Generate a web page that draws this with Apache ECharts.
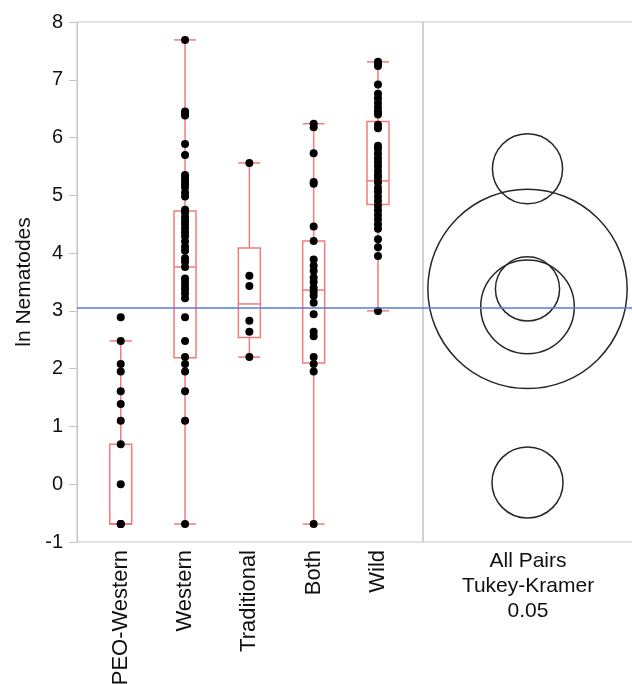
<!DOCTYPE html>
<html>
<head>
<meta charset="utf-8">
<script src="https://cdn.jsdelivr.net/npm/echarts@6/dist/echarts.min.js"></script>
<style>
  html, body { margin: 0; padding: 0; background: #fff; }
  #main { width: 632px; height: 684px; }
</style>
</head>
<body>
<div id="main"></div>
<script>
// groups on the x axis
const categories = ['PEO-Western', 'Western', 'Traditional', 'Both', 'Wild'];

// ln(nematode count) per sample
const peoWestern = [2.89, 2.48, 2.08, 1.95, 1.61, 1.39, 1.10, 0.69, 0.00, -0.69, -0.69, -0.69];
const western = [7.69, 6.45, 6.42, 6.38, 5.89, 5.70, 5.35, 5.30, 5.25, 5.19, 5.14, 5.05, 4.98,
  4.75, 4.70, 4.62, 4.55, 4.50, 4.43, 4.36, 4.29, 4.20, 4.11, 4.04, 3.91, 3.85, 3.76, 3.56,
  3.50, 3.43, 3.37, 3.30, 3.22, 2.89, 2.48, 2.20, 2.08, 1.95, 1.61, 1.10, -0.69];
const traditional = [5.56, 3.61, 3.43, 2.83, 2.64, 2.20];
const both = [6.24, 6.18, 5.73, 5.23, 5.20, 4.46, 4.21, 3.89, 3.78, 3.69, 3.58, 3.50, 3.40,
  3.33, 3.26, 3.14, 2.94, 2.64, 2.56, 2.20, 2.08, 1.95, -0.69];
const wild = [7.31, 7.28, 7.24, 6.92, 6.76, 6.68, 6.60, 6.52, 6.45, 6.40, 6.22, 6.16, 5.86,
  5.80, 5.72, 5.64, 5.57, 5.50, 5.42, 5.35, 5.30, 5.22, 5.13, 5.06, 4.98, 4.90, 4.82, 4.74,
  4.66, 4.58, 4.50, 4.42, 4.24, 4.10, 3.95, 3.00];
const groups = [peoWestern, western, traditional, both, wild];

// box stats: [lower whisker, Q1, median, Q3, upper whisker]
const boxStats = [
  [-0.69, -0.69, -0.69, 0.69, 2.48],
  [-0.69, 2.19, 3.76, 4.73, 7.69],
  [2.20, 2.54, 3.12, 4.09, 5.56],
  [-0.69, 2.10, 3.36, 4.21, 6.24],
  [3.00, 4.84, 5.25, 6.28, 7.31]
];

// comparison circles: centre (group mean) and radius, in y units
const circleMeans = [0.03, 3.38, 3.38, 3.07, 5.46];
const circleRadii = [0.615, 0.555, 1.725, 0.81, 0.607];

const grandMean = 3.05;

const boxColor = '#f27b7b';
const frameColor = '#c4c4c4';
const font = 'Liberation Sans, Arial, sans-serif';

const chart = echarts.init(document.getElementById('main'));

const pointData = [];
groups.forEach((vals, i) => {
  vals.forEach(v => pointData.push([i + 1, v]));
});
const boxData = boxStats.map((s, i) => [i + 1].concat(s));
const circleData = circleMeans.map((m, i) => [m, circleRadii[i]]);

function boxStyle() {
  return { stroke: boxColor, lineWidth: 1.5, fill: 'none' };
}

function renderBox(params, api) {
  const x = api.value(0);
  const lo = api.coord([x, api.value(1)]);
  const q1 = api.coord([x, api.value(2)]);
  const md = api.coord([x, api.value(3)]);
  const q3 = api.coord([x, api.value(4)]);
  const hi = api.coord([x, api.value(5)]);
  const cx = lo[0];
  const half = 11;
  return {
    type: 'group',
    children: [
      { type: 'line', shape: { x1: cx, y1: hi[1], x2: cx, y2: q3[1] }, style: boxStyle() },
      { type: 'line', shape: { x1: cx, y1: q1[1], x2: cx, y2: lo[1] }, style: boxStyle() },
      { type: 'line', shape: { x1: cx - half, y1: hi[1], x2: cx + half, y2: hi[1] }, style: boxStyle() },
      { type: 'line', shape: { x1: cx - half, y1: lo[1], x2: cx + half, y2: lo[1] }, style: boxStyle() },
      { type: 'rect', shape: { x: cx - half, y: q3[1], width: half * 2, height: q1[1] - q3[1] }, style: boxStyle() },
      { type: 'line', shape: { x1: cx - half, y1: md[1], x2: cx + half, y2: md[1] }, style: boxStyle() }
    ]
  };
}

function renderCircle(params, api) {
  const c = api.coord([0.5, api.value(0)]);
  const r = api.size([0, api.value(1)])[1];
  return {
    type: 'circle',
    shape: { cx: c[0], cy: c[1], r: r },
    style: { fill: 'none', stroke: '#262626', lineWidth: 1.5 }
  };
}

const meanLine = {
  silent: true,
  symbol: 'none',
  label: { show: false },
  lineStyle: { color: '#5b7dd3', width: 1.5, type: 'solid' },
  data: [{ yAxis: grandMean }]
};

const option = {
  animation: false,
  backgroundColor: '#fff',
  grid: [
    { left: 77, top: 22, width: 346, height: 520, outerBoundsMode: 'none', containLabel: false,
      show: true, borderColor: frameColor, borderWidth: 1 },
    { left: 423, top: 22, width: 220, height: 520, outerBoundsMode: 'none', containLabel: false,
      show: true, borderColor: frameColor, borderWidth: 1 }
  ],
  xAxis: [
    {
      type: 'value', gridIndex: 0, min: 0.32, max: 5.70,
      splitLine: { show: false },
      axisLine: { show: false },
      axisTick: { show: false },
      axisLabel: {
        customValues: [1, 2, 3, 4, 5],
        formatter: v => categories[Math.round(v) - 1] || '',
        rotate: 90,
        margin: 8,
        fontSize: 22,
        color: '#111',
        fontFamily: font
      }
    },
    { type: 'value', gridIndex: 1, min: 0, max: 1.0526, show: false }
  ],
  yAxis: [
    {
      type: 'value', gridIndex: 0, min: -1, max: 8, interval: 1,
      name: 'ln Nematodes',
      nameLocation: 'middle',
      nameGap: 33,
      nameTextStyle: { fontSize: 21, color: '#111', fontFamily: font },
      splitLine: { show: false },
      axisLine: { show: true, lineStyle: { color: frameColor } },
      axisTick: { show: true, length: 8, lineStyle: { color: frameColor } },
      axisLabel: { fontSize: 20, color: '#111', margin: 14, fontFamily: font }
    },
    { type: 'value', gridIndex: 1, min: -1, max: 8, show: false }
  ],
  graphic: [
    {
      type: 'text', x: 528, y: 549,
      style: {
        text: 'All Pairs\nTukey-Kramer\n0.05',
        align: 'center',
        verticalAlign: 'top',
        fontSize: 21,
        lineHeight: 25,
        fill: '#111',
        fontFamily: font
      }
    }
  ],
  series: [
    {
      type: 'custom', xAxisIndex: 0, yAxisIndex: 0,
      renderItem: renderBox,
      data: boxData,
      z: 2,
      silent: true
    },
    {
      type: 'scatter', xAxisIndex: 0, yAxisIndex: 0,
      data: pointData,
      symbolSize: 8,
      itemStyle: { color: '#000', opacity: 1 },
      markLine: meanLine,
      z: 3
    },
    {
      type: 'custom', xAxisIndex: 1, yAxisIndex: 1,
      renderItem: renderCircle,
      data: circleData,
      clip: false,
      markLine: meanLine,
      z: 2
    }
  ]
};

chart.setOption(option);
</script>
</body>
</html>
